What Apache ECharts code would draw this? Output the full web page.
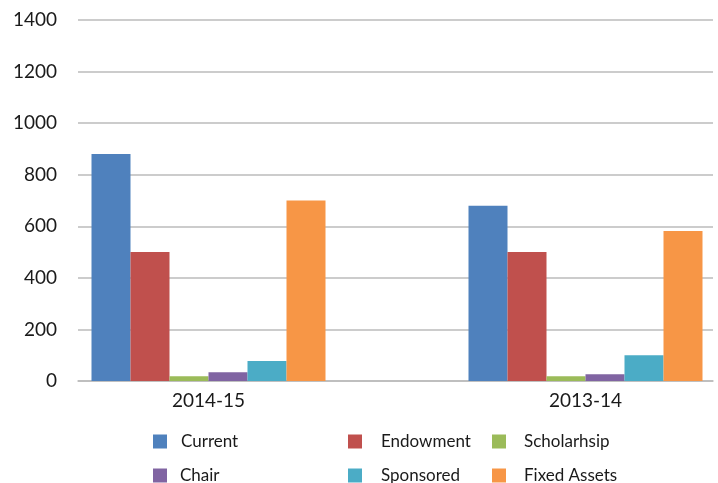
<!DOCTYPE html>
<html lang="en">
<head>
    <meta charset="UTF-8">
    <title>Funds</title>
    <script src="https://cdn.jsdelivr.net/npm/echarts@6/dist/echarts.min.js"></script>
    <style>
        html, body {margin: 0; padding: 0; background: #fff; overflow: hidden;}
        #main {width: 780px; height: 483px;}
    </style>
</head>
<body>
<div id="main"></div>
<script>
    var years = ['2014-15', '2013-14'];
    var current = [880, 680];
    var endowment = [500, 500];
    var scholarship = [18, 18];
    var chair = [34, 26];
    var sponsored = [78, 100];
    var fixedAssets = [700, 582];
    var yTicks = [0, 200, 400, 600, 800, 1000, 1200, 1400];

    var names = ['Current', 'Endowment', 'Scholarhsip', 'Chair', 'Sponsored', 'Fixed Assets'];
    var values = [current, endowment, scholarship, chair, sponsored, fixedAssets];
    var colors = ['#4F81BD', '#C0504D', '#9BBB59', '#8064A2', '#4BACC6', '#F79646'];
    // legend slots: 3 columns, 2 rows
    var legendLeft = [153, 348, 492, 153, 348, 492];
    var legendTop = [433, 433, 433, 467, 467, 467];
    var legendPad = [9, 14, 13, 8, 14, 13];
    var font = 'Lato';

    var series = [];
    var legends = [];
    for (var i = 0; i < names.length; i++) {
        series.push({
            name: names[i],
            type: 'bar',
            xAxisIndex: 1,
            yAxisIndex: 1,
            data: values[i],
            barGap: '0%',
            barWidth: 39,
            itemStyle: {color: colors[i]}
        });
        legends.push({
            left: legendLeft[i],
            top: legendTop[i],
            padding: 0,
            itemWidth: 14,
            itemHeight: 14,
            icon: 'rect',
            data: [names[i]],
            textStyle: {fontFamily: font, fontSize: 17, color: '#1a1a1a', padding: [0, 0, 0, legendPad[i]]}
        });
    }

    // the canvas is wider than the window; the plot ends at x=713 on screen
    var chart = echarts.init(document.getElementById('main'));
    chart.setOption({
        animation: false,
        grid: [
            {left: 78, right: 67, top: 20, bottom: 102},
            {left: 20, right: 6, top: 20, bottom: 102}
        ],
        legend: legends,
        xAxis: [
            {
                type: 'category', gridIndex: 0, data: years,
                axisLine: {lineStyle: {color: '#bbb', width: 1.5}},
                axisTick: {show: false},
                axisLabel: {show: false}
            },
            {
                type: 'category', gridIndex: 1, data: years,
                axisLine: {show: false},
                axisTick: {show: false},
                axisLabel: {fontFamily: font, fontSize: 19, color: '#1a1a1a', margin: 10}
            }
        ],
        yAxis: [
            {
                type: 'value', gridIndex: 0, min: 0, max: 1400, interval: 200,
                axisLine: {show: false},
                axisTick: {show: false},
                axisLabel: {
                    fontFamily: font, fontSize: 19, color: '#1a1a1a', margin: 21,
                    formatter: function (v) { return String(v); }
                },
                splitLine: {lineStyle: {color: '#bbb', width: 1.5}}
            },
            {
                type: 'value', gridIndex: 1, min: 0, max: 1400, interval: 200,
                show: false
            }
        ],
        series: series
    });
</script>
</body>
</html>
